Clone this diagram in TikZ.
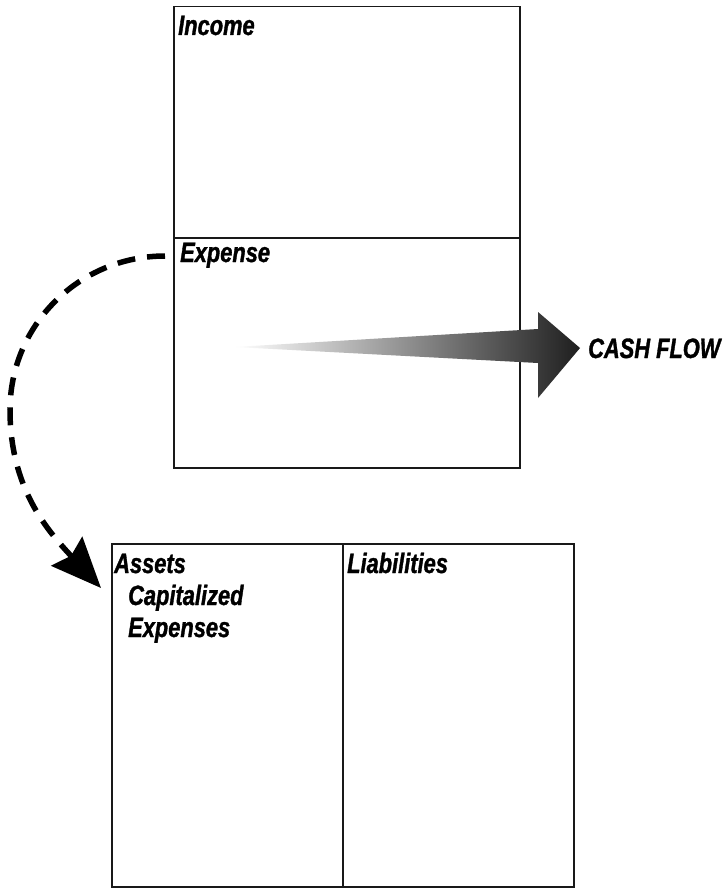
\documentclass[tikz,border=0pt]{standalone}
\usepackage{fontspec}
\newfontfamily\lblfont{Liberation Sans Bold Italic}[FakeStretch=0.78, FakeBold=1.2]
\usetikzlibrary{arrows.meta}
\begin{document}
\begin{tikzpicture}[x=1pt,y=1pt,
  box/.style={draw=black!90, line width=1.5pt, anchor=north west, inner sep=0pt},
  lbl/.style={anchor=base west, inner sep=0pt, font=\lblfont\fontsize{28}{32}\selectfont},
  dashline/.style={line width=5.5pt, dash pattern=on 18pt off 12pt, -{Stealth[length=50pt,width=42pt,inset=6pt]}}]
\useasboundingbox (0,0) rectangle (726,-888);
\fill[white] (0,0) rectangle (726,-888);
% boxes
\node[box, minimum width=346pt, minimum height=231pt] (income) at (173,-6) {};
\node[box, minimum width=346pt, minimum height=230pt] (expense) at (173,-237) {};
\node[box, minimum width=231pt, minimum height=343pt] (assets) at (111,-543) {};
\node[box, minimum width=231pt, minimum height=343pt] (liab) at (342,-543) {};
% labels
\node[lbl] (incomelbl) at (178,-35) {Income};
\node[lbl] (expenselbl) at (180,-262) {Expense};
\node[lbl] (assetslbl) at (114,-573) {Assets};
\node[lbl] (caplbl) at (128,-605) {Capitalized};
\node[lbl] (explbl) at (128,-637) {Expenses};
\node[lbl] (liablbl) at (347,-573) {Liabilities};
\node[lbl] (cash) at (588,-358) {CASH FLOW};
% gradient arrow
\coordinate (s) at (235,-347);
\shade[left color=white, right color=black!88]
  (s) -- (538,-329) -- (538,-312) -- (580,-348) -- (538,-398) -- (538,-363) -- cycle;
% dashed curved arrow
\coordinate (d0) at (165,-256);
\coordinate (dm) at (10,-410);
\coordinate (d1) at (101,-588);
\draw[dashline] (d0) to[out=180,in=90] (dm) to[out=-90,in=133] (d1);
\end{tikzpicture}
\end{document}
